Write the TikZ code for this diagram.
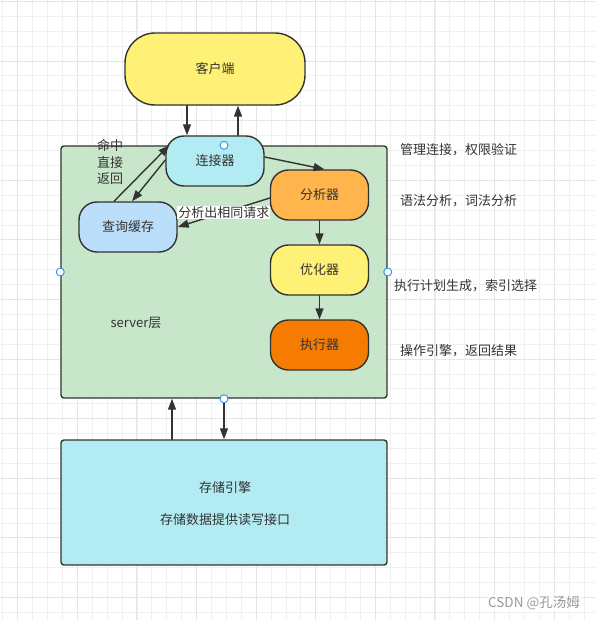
\documentclass[tikz,border=0pt]{standalone}
\usepackage{fontspec}
\setmainfont{Noto Sans CJK SC}
\usetikzlibrary{arrows.meta}

\definecolor{txtgray}{HTML}{333333}
\definecolor{linegray}{HTML}{333333}
\definecolor{clientyel}{HTML}{FFF176}
\definecolor{servergreen}{HTML}{C8E6C9}
\definecolor{conncyan}{HTML}{B2EBF2}
\definecolor{parseorange}{HTML}{FFB54C}
\definecolor{cacheblue}{HTML}{BBDEFB}
\definecolor{execorange}{HTML}{F57C00}
\definecolor{handleblue}{HTML}{2D8CF0}

\tikzset{
  gridminor/.style={draw=black!6,line width=0.8pt},
  gridmajor/.style={draw=black!10,line width=0.9pt},
  box/.style={draw=linegray,line width=1.4pt,text=txtgray,font=\fontsize{13}{16}\selectfont},
  pill/.style={box,rounded corners=18pt,minimum width=98pt,minimum height=50pt},
  arr/.style={->,draw=linegray,line width=1.4pt},
  note/.style={text=txtgray,font=\fontsize{13}{16}\selectfont,anchor=west,inner sep=0pt},
  handle/.style={draw=handleblue,fill=white,line width=0.9pt}
}

\begin{document}
\begin{tikzpicture}[line cap=round,line join=round,>={Triangle[length=11pt,width=8pt]},x=1pt,y=-1pt]
\useasboundingbox (0,0) rectangle (595,620);
\fill[white] (0,0) rectangle (595,620);
% grid
\foreach \i in {0,...,39}
  \draw[gridminor] ({2.8+14.9*\i},0) -- ({2.8+14.9*\i},620);
\foreach \i in {0,...,41}
  \draw[gridminor] (0,{1.4+14.9*\i}) -- (595,{1.4+14.9*\i});
\foreach \i in {0,...,9}
  \draw[gridmajor] ({17.7+59.6*\i},0) -- ({17.7+59.6*\i},620);
\foreach \i in {0,...,10}
  \draw[gridmajor] (0,{1.4+59.6*\i}) -- (595,{1.4+59.6*\i});

% boxes
\node[box,rounded corners=3pt,fill=servergreen,minimum width=326pt,minimum height=252pt] (server) at (224,272) {};
\node[box,rounded corners=3pt,fill=conncyan,minimum width=326pt,minimum height=125pt] (storage) at (224,502.5) {};
\node[text=txtgray,font=\fontsize{13}{16}\selectfont] (storname) at (225,488) {存储引擎};
\node[text=txtgray,font=\fontsize{13}{16}\selectfont] (stordesc) at (225,520) {存储数据提供读写接口};
\node[box,rounded corners=30pt,fill=clientyel,minimum width=180pt,minimum height=72pt] (client) at (215,69) {客户端};
\node[pill,fill=conncyan] (conn) at (215,161) {连接器};
\node[pill,fill=parseorange] (parser) at (319.5,195) {分析器};
\node[pill,fill=cacheblue] (cache) at (128,227) {查询缓存};
\node[pill,fill=clientyel] (opt) at (319.5,270) {优化器};
\node[pill,fill=execorange] (exec) at (319.5,345) {执行器};
\node[text=txtgray,font=\fontsize{13}{16}\selectfont] (serverlbl) at (136,323) {server层};
\node[text=txtgray,font=\fontsize{13}{16.5}\selectfont,align=center] (hit) at (110,162) {命中\\直接\\返回};

% connectors
\draw[arr] ([xshift=-28pt]client.south) -- ([xshift=-28pt]client.south |- conn.north);
\draw[arr] ([xshift=23pt]conn.north) -- ([xshift=23pt]conn.north |- client.south);
\draw[arr] ([yshift=4pt]conn.east) -- ([xshift=5pt]parser.north);
\draw[arr] ([xshift=-14pt]cache.north) -- ([xshift=4pt,yshift=-10pt]conn.north west);
\draw[arr] ([yshift=1pt]conn.west) -- ([xshift=4pt]cache.north);
\draw[arr] ([yshift=-3pt]parser.west) -- (cache.east)
  node[midway,fill=white,inner sep=1pt,text=txtgray,font=\fontsize{13}{16}\selectfont] (samereq) {分析出相同请求};
\draw[arr] (parser.south) -- (opt.north);
\draw[arr] (opt.south) -- (exec.north);
\draw[arr] ([xshift=-52pt]storage.north) -- ([xshift=-52pt]server.south);
\draw[arr] (server.south) -- (storage.north);

% handles
\foreach \a in {north,south,east,west}
  \draw[handle] (server.\a) circle (4pt);

% notes
\node[note] (n1) at (400,150) {管理连接，权限验证};
\node[note] (n2) at (400,201) {语法分析，词法分析};
\node[note] (n3) at (394,286) {执行计划生成，索引选择};
\node[note] (n4) at (400,351) {操作引擎，返回结果};
\node[text=black!40,font=\fontsize{13.5}{16}\selectfont,anchor=east,fill=white,fill opacity=0.7,text opacity=1,inner sep=1pt] (mark) at (581,603) {CSDN @孔汤姆};
\end{tikzpicture}
\end{document}
